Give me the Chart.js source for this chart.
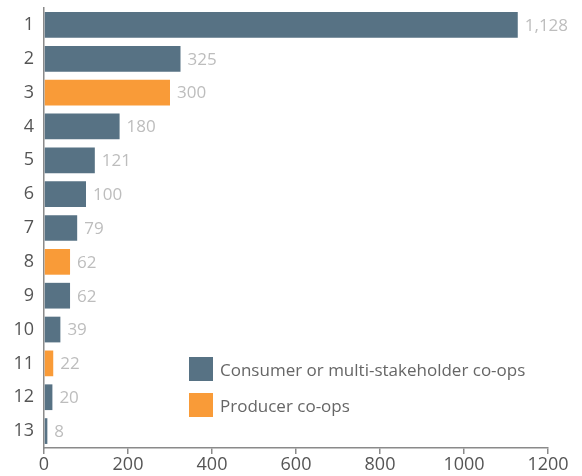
<!DOCTYPE html>
<html>
<head>
<meta charset="utf-8">
<script src="https://cdn.jsdelivr.net/npm/chart.js@4"></script>
<style>
    html, body { margin: 0; padding: 0; background: #fff; }
    #wrap { position: relative; width: 582px; height: 476px; }
    #legend { position: absolute; left: 189px; top: 357px; font-family: "Open Sans", sans-serif; font-size: 17px; color: #666; }
    .item { display: flex; align-items: center; height: 24px; margin-bottom: 12px; }
    .swatch { width: 24px; height: 24px; margin-right: 7px; }
</style>
</head>
<body>
<div id="wrap">
    <canvas id="chart" width="582" height="476"></canvas>
    <div id="legend"></div>
</div>
<script>
// Chart data
const categories = ['1', '2', '3', '4', '5', '6', '7', '8', '9', '10', '11', '12', '13'];
const values = [1128, 325, 300, 180, 121, 100, 79, 62, 62, 39, 22, 20, 8];
const groups = ['C', 'C', 'P', 'C', 'C', 'C', 'C', 'P', 'C', 'C', 'P', 'C', 'C'];
const xTicks = [0, 200, 400, 600, 800, 1000, 1200];
const seriesNames = ['Consumer or multi-stakeholder co-ops', 'Producer co-ops'];

const COLORS = { C: '#577284', P: '#f99b38' };
const AXIS = '#8a8a8a';
const FONT = '"Open Sans", sans-serif';

// Value labels drawn to the right of each bar
const valueLabels = {
    id: 'valueLabels',
    afterDatasetsDraw(chart) {
        const ctx = chart.ctx;
        const meta = chart.getDatasetMeta(0);
        ctx.save();
        ctx.font = '17px ' + FONT;
        ctx.fillStyle = '#bdbdbd';
        ctx.textBaseline = 'middle';
        ctx.textAlign = 'left';
        meta.data.forEach((bar, i) => {
            ctx.fillText(values[i].toLocaleString('en-US'), bar.x + 7, bar.y + 1);
        });
        ctx.restore();
    }
};

const chart = new Chart(document.getElementById('chart').getContext('2d'), {
    type: 'bar',
    data: {
        labels: categories,
        datasets: [{
            data: values,
            backgroundColor: groups.map(g => COLORS[g]),
            barPercentage: 0.76,
            categoryPercentage: 1
        }]
    },
    options: {
        indexAxis: 'y',
        responsive: false,
        animation: false,
        layout: { padding: { top: 8, right: 34, left: 0, bottom: 0 } },
        plugins: {
            legend: { display: false },
            tooltip: { enabled: false }
        },
        scales: {
            x: {
                min: 0,
                max: 1200,
                afterBuildTicks: (scale) => { scale.ticks = xTicks.map(v => ({ value: v })); },
                afterFit: (scale) => { scale.height = 28; scale.paddingLeft = 0; scale.paddingRight = 0; },
                border: { display: true, color: AXIS, width: 1.5 },
                grid: { display: true, drawOnChartArea: false, drawTicks: true, tickLength: 6, color: AXIS, lineWidth: 1.5 },
                ticks: { color: '#555', padding: 0, font: { family: FONT, size: 18 }, callback: (v) => String(v) }
            },
            y: {
                afterFit: (scale) => { scale.width = 44; scale.paddingTop = 0; scale.paddingBottom = 0; },
                border: { display: true, color: AXIS, width: 1.5 },
                grid: { display: false, drawTicks: false },
                ticks: { color: '#555', padding: 10, font: { family: FONT, size: 18 } }
            }
        }
    },
    plugins: [valueLabels]
});

// Legend
const legend = document.getElementById('legend');
['C', 'P'].forEach((g, i) => {
    const item = document.createElement('div');
    item.className = 'item';
    item.innerHTML = `<span class="swatch" style="background:${COLORS[g]}"></span><span>${seriesNames[i]}</span>`;
    legend.appendChild(item);
});
</script>
</body>
</html>
